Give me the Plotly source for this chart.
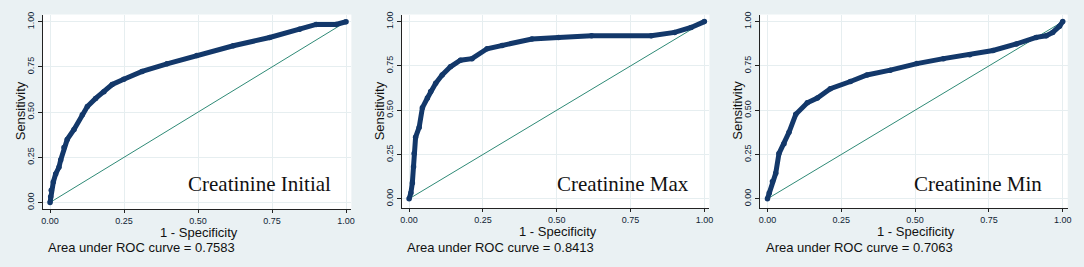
import plotly.graph_objects as go

W, H = 1084, 267

# ROC curve points
fpr_initial = [0, 0.002, 0.004, 0.011, 0.019, 0.030, 0.036, 0.047, 0.058, 0.081, 0.109, 0.126,
               0.154, 0.182, 0.210, 0.249, 0.311, 0.395, 0.496, 0.619, 0.742, 0.843, 0.899, 0.966, 1.0]
tpr_initial = [0, 0.031, 0.067, 0.113, 0.158, 0.195, 0.235, 0.304, 0.349, 0.404, 0.485, 0.531,
               0.576, 0.613, 0.653, 0.682, 0.725, 0.767, 0.813, 0.867, 0.913, 0.958, 0.985, 0.985, 1.0]

fpr_max = [0, 0.006, 0.011, 0.015, 0.017, 0.022, 0.034, 0.045, 0.062, 0.073, 0.090, 0.112, 0.140,
           0.174, 0.213, 0.264, 0.315, 0.416, 0.506, 0.618, 0.820, 0.899, 0.955, 1.0]
tpr_max = [0, 0.033, 0.089, 0.181, 0.255, 0.348, 0.403, 0.514, 0.569, 0.606, 0.652, 0.699, 0.745,
           0.782, 0.791, 0.847, 0.865, 0.902, 0.911, 0.920, 0.920, 0.939, 0.967, 1.0]

fpr_min = [0, 0.006, 0.017, 0.028, 0.039, 0.056, 0.073, 0.096, 0.135, 0.169, 0.213, 0.281, 0.337,
           0.416, 0.506, 0.596, 0.685, 0.764, 0.843, 0.910, 0.944, 0.966, 0.989, 1.0]
tpr_min = [0, 0.033, 0.098, 0.144, 0.255, 0.311, 0.375, 0.477, 0.542, 0.569, 0.621, 0.662, 0.699,
           0.726, 0.763, 0.791, 0.813, 0.837, 0.874, 0.911, 0.920, 0.939, 0.974, 1.0]

labels = ["Creatinine Initial", "Creatinine Max", "Creatinine Min"]
auc_values = ["0.7583", "0.8413", "0.7063"]
tick_vals = [0, 0.25, 0.5, 0.75, 1.0]
tick_text = ["0.00", "0.25", "0.50", "0.75", "1.00"]
ref_line = [0, 1]

curves = [(fpr_initial, tpr_initial), (fpr_max, tpr_max), (fpr_min, tpr_min)]

# layout in pixels: (left, right, top, bottom) of plot area, x range, y range
panels = [
    dict(l=42, r=352, t=11.7, b=209.3, xr=[-0.0245, 1.018], yr=[-0.037, 1.040]),
    dict(l=402.7, r=711.7, t=11.7, b=208.5, xr=[-0.0246, 1.017], yr=[-0.054, 1.040]),
    dict(l=762.7, r=1071.7, t=11.7, b=208.5, xr=[-0.0246, 1.017], yr=[-0.054, 1.040]),
]

BG = "#eaf1f3"
GRID = "#e6eef0"
NAVY = "#13386a"
TEAL = "#2f8a76"

fig = go.Figure()
layout = dict(
    width=W, height=H, margin=dict(l=0, r=0, t=0, b=0),
    paper_bgcolor=BG, plot_bgcolor="white", showlegend=False,
    font=dict(family="Arial, Liberation Sans, sans-serif", color="#111"),
)
annotations = []

for i, ((fx, ty), p) in enumerate(zip(curves, panels)):
    n = i + 1
    xa = "x" if n == 1 else f"x{n}"
    ya = "y" if n == 1 else f"y{n}"
    fig.add_trace(go.Scatter(x=ref_line, y=ref_line, mode="lines",
                             line=dict(color=TEAL, width=1), xaxis=xa, yaxis=ya))
    fig.add_trace(go.Scatter(x=fx, y=ty, mode="lines+markers",
                             line=dict(color=NAVY, width=5, shape="linear"),
                             marker=dict(color=NAVY, size=5.5),
                             xaxis=xa, yaxis=ya))
    xkey = "xaxis" if n == 1 else f"xaxis{n}"
    ykey = "yaxis" if n == 1 else f"yaxis{n}"
    layout[xkey] = dict(
        domain=[p["l"] / W, p["r"] / W], range=p["xr"], anchor=ya,
        tickvals=tick_vals, ticktext=tick_text, ticks="outside", ticklen=3,
        tickcolor="#222", tickfont=dict(size=9, color="#0f1e35"),
        showline=True, linecolor="#222", linewidth=1.2, mirror=False,
        showgrid=True, gridcolor=GRID, gridwidth=1, zeroline=False,
        fixedrange=True,
    )
    layout[ykey] = dict(
        domain=[1 - p["b"] / H, 1 - p["t"] / H], range=p["yr"], anchor=xa,
        tickvals=tick_vals, ticktext=tick_text, ticks="outside", ticklen=4,
        tickcolor="#222", tickfont=dict(size=9, color="#0f1e35"), tickangle=-90,
        showline=True, linecolor="#222", linewidth=1.2, mirror=False,
        showgrid=True, gridcolor=GRID, gridwidth=1, zeroline=False,
        fixedrange=True,
    )
    off = [0, 360.7, 720.7][i]
    # axis titles
    annotations.append(dict(text="Sensitivity", x=(19 + off) / W, y=1 - 109 / H,
                            xref="paper", yref="paper", showarrow=False, textangle=-90,
                            font=dict(size=13, color="#111"), xanchor="center", yanchor="middle"))
    annotations.append(dict(text="1 - Specificity", x=((p["l"] + p["r"]) / 2 + 2) / W,
                            y=1 - (232.5 if i == 0 else 232) / H,
                            xref="paper", yref="paper", showarrow=False,
                            font=dict(size=13, color="#111"), xanchor="center", yanchor="middle"))
    annotations.append(dict(text=f"Area under ROC curve = {auc_values[i]}",
                            x=(p["l"] + 3.5) / W, y=1 - 248 / H,
                            xref="paper", yref="paper", showarrow=False,
                            font=dict(size=13, color="#111"), xanchor="left", yanchor="middle"))
    right_px = [334, 693.3, 1048.3][i]
    annotations.append(dict(text=labels[i], x=right_px / W, y=1 - 184 / H,
                            xref="paper", yref="paper", showarrow=False,
                            font=dict(size=21, family="Liberation Serif, Times New Roman, serif",
                                      color="#111"),
                            xanchor="right", yanchor="middle"))

layout["annotations"] = annotations
fig.update_layout(**layout)
fig.write_html("out.html", config={"displayModeBar": False},
               post_script="document.body.style.margin='0';document.body.style.overflow='hidden';")
